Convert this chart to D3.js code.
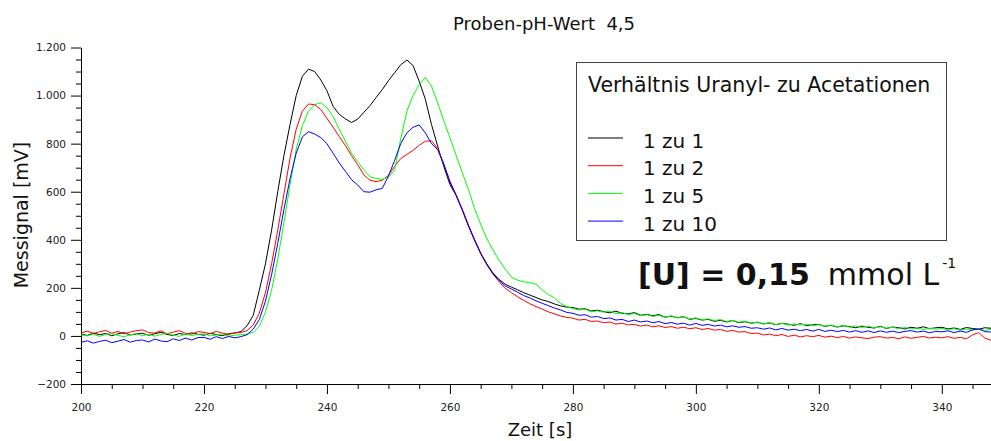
<!DOCTYPE html>
<html><head><meta charset="utf-8">
<script src="https://cdn.jsdelivr.net/npm/d3@7"></script>
<style>
html,body{margin:0;padding:0;background:#fff;}
svg{display:block;font-family:"DejaVu Sans",sans-serif;}
</style></head><body><svg id="c" width="991" height="441"></svg>
<script>
const chartTitle = "Proben-pH-Wert  4,5";
const xTitle = "Zeit [s]";
const yTitle = "Messignal [mV]";
const legendTitle = "Verhältnis Uranyl- zu Acetationen";
const seriesNames = ["1 zu 1", "1 zu 2", "1 zu 5", "1 zu 10"];
const seriesColors = ["#000000", "#ff0000", "#00ff00", "#0000ff"];
const times = d3.range(200, 349); // one sample per second, 200 … 348 s

const series11 = [
  8, 2, 12, 5, 10, 1, 9, 14, 4, 8,
  11, 3, 9, 15, 6, 2, 10, 5, 13, 7,
  3, 11, 6, 1, 9, 12, 18, 42, 85, 190,
  300, 440, 600, 750, 880, 1000, 1080, 1110, 1100, 1065,
  1020, 955, 922, 903, 888, 902, 930, 958, 992, 1025,
  1062, 1095, 1128, 1148, 1125, 1060, 985, 880, 790, 705,
  630, 585, 525, 460, 400, 345, 300, 262, 235, 215,
  203, 192, 180, 170, 160, 150, 143, 133, 125, 120,
  118, 111, 113, 104, 107, 101, 96, 103, 94, 92,
  97, 86, 90, 84, 89, 78, 82, 76, 80, 69,
  73, 66, 69, 61, 65, 58, 64, 55, 59, 53,
  57, 50, 54, 47, 52, 49, 44, 51, 43, 46,
  48, 40, 44, 37, 42, 39, 34, 41, 36, 33,
  40, 31, 37, 34, 29, 36, 32, 38, 30, 34,
  36, 29, 33, 27, 35, 31, 28, 34, 32
];
const series12 = [
  12, 20, 10, 17, 23, 11, 19, 8, 16, 22,
  25, 14, 12, 21, 9, 16, 22, 11, 7, 18,
  15, 9, 19, 12, 6, 13, 14, 22, 45, 95,
  180, 300, 440, 590, 740, 860, 935, 965, 962, 942,
  905, 868, 830, 792, 750, 712, 670, 648, 642, 648,
  668, 705, 738, 755, 772, 793, 810, 812, 780, 715,
  645, 588, 528, 462, 402, 345, 298, 258, 225, 198,
  180, 163, 148, 134, 122, 112, 100, 92, 83, 77,
  74, 66, 69, 60, 62, 55, 58, 49, 53, 46,
  48, 41, 45, 38, 42, 35, 39, 32, 36, 30,
  34, 27, 31, 24, 27, 19, 23, 16, 18, 10,
  12, 4, 8, 1, 6, -2, 3, -4, 1, -3,
  2, -5, -1, -7, -2, -9, -4, -8, -11, -5,
  -3, -9, -6, -12, -4, -10, -6, -2, -9, -5,
  -8, -3, -10, -6, -12, 4, 14, -9, -18
];
const series15 = [
  5, 0, 8, -2, 6, 10, 2, -3, 5, 9,
  1, 7, -1, 6, 11, 3, -2, 8, 2, 6,
  9, 0, 4, 8, -1, 3, 5, 8, 15, 40,
  100, 190, 320, 470, 630, 775, 875, 935, 962, 970,
  950, 912, 860, 810, 760, 725, 690, 662, 655, 652,
  660, 690, 820, 935, 1000, 1045, 1075, 1040, 970, 895,
  825, 752, 680, 610, 530, 465, 405, 358, 315, 278,
  245, 232, 225, 222, 215, 192, 172, 158, 135, 122,
  114, 108, 111, 101, 104, 99, 103, 92, 97, 89,
  93, 84, 88, 81, 86, 77, 84, 75, 79, 71,
  75, 67, 71, 64, 68, 60, 65, 57, 61, 53,
  57, 50, 55, 47, 53, 45, 50, 46, 49, 42,
  47, 40, 45, 38, 44, 36, 42, 35, 41, 33,
  38, 32, 36, 30, 35, 29, 33, 27, 32, 28,
  31, 26, 30, 24, 29, 25, 28, 23, 27
];
const series110 = [
  -27, -20, -30, -23, -18, -28, -22, -15, -26, -19,
  -17, -25, -13, -21, -24, -12, -19, -9, -17, -7,
  -6, -14, -3, -11, -2, -8, -3, 5, 28, 68,
  145, 255, 385, 525, 655, 760, 828, 850, 840, 825,
  800, 760, 720, 685, 650, 628, 600, 598, 608, 614,
  665, 730, 800, 845, 868, 878, 845, 800, 775, 715,
  640, 585, 525, 458, 398, 342, 296, 258, 230, 208,
  195, 182, 168, 158, 146, 136, 126, 116, 108, 98,
  94, 86, 88, 78, 81, 72, 75, 66, 69, 60,
  66, 58, 62, 55, 60, 51, 56, 49, 53, 45,
  52, 44, 48, 41, 45, 38, 42, 36, 39, 32,
  34, 28, 33, 25, 31, 24, 28, 22, 27, 20,
  27, 19, 24, 18, 23, 16, 22, 15, 21, 14,
  21, 15, 20, 14, 19, 22, 16, 20, 13, 19,
  17, 21, 14, 20, 15, 25, 29, 18, 16
];
const seriesValues = [series11, series12, series15, series110];

const xTickValues = [200, 220, 240, 260, 280, 300, 320, 340];
const xTickLabels = ["200", "220", "240", "260", "280", "300", "320", "340"];
const xMinorTickValues = [205, 210, 215, 225, 230, 235, 245, 250, 255, 265, 270, 275, 285, 290, 295, 305, 310, 315, 325, 330, 335, 345];
const yTickValues = [-200, 0, 200, 400, 600, 800, 1000, 1200];
const yTickLabels = ["\u2212200", "0", "200", "400", "600", "800", "1.000", "1.200"];
const yMinorTickValues = [-150, -100, -50, 50, 100, 150, 250, 300, 350, 450, 500, 550, 650, 700, 750, 850, 900, 950, 1050, 1100, 1150];

const svg = d3.select("#c");
svg.append("rect").attr("width", 991).attr("height", 441).attr("fill", "#fff");

const x = d3.scaleLinear().domain([200, 348]).range([81, 991]);
const y = d3.scaleLinear().domain([-200, 1200]).range([384, 47.5]);

// minor ticks
svg.append("g").attr("transform", "translate(0,384)")
  .call(d3.axisBottom(x).tickValues(xMinorTickValues).tickSize(5).tickSizeOuter(0).tickFormat(""))
  .call(g => g.select(".domain").remove());
svg.append("g").attr("transform", "translate(81,0)")
  .call(d3.axisLeft(y).tickValues(yMinorTickValues).tickSize(5).tickSizeOuter(0).tickFormat(""))
  .call(g => g.select(".domain").remove());

// major axes
const gx = svg.append("g").attr("transform", "translate(0,384)")
  .call(d3.axisBottom(x).tickValues(xTickValues).tickSize(10).tickSizeOuter(0).tickPadding(10)
    .tickFormat((d, i) => xTickLabels[i]));
const gy = svg.append("g").attr("transform", "translate(81,0)")
  .call(d3.axisLeft(y).tickValues(yTickValues).tickSize(10).tickSizeOuter(0).tickPadding(5)
    .tickFormat((d, i) => yTickLabels[i]));
[gx, gy].forEach(g => g.selectAll("text")
  .attr("font-family", "DejaVu Sans, sans-serif").attr("font-size", 10.5).attr("fill", "#222"));
svg.selectAll(".tick line, .domain").attr("stroke", "#000");

// curves
const line = d3.line().x((d, i) => x(times[i])).y(d => y(d));
seriesValues.forEach((vals, k) => {
  svg.append("path").datum(vals)
    .attr("fill", "none").attr("stroke", seriesColors[k]).attr("stroke-width", 1)
    .attr("stroke-linejoin", "round").attr("d", line);
});

// titles
svg.append("text").attr("x", 544).attr("y", 30).attr("text-anchor", "middle")
  .attr("font-size", 18).attr("fill", "#111").style("white-space", "pre").text(chartTitle);
svg.append("text").attr("x", 540).attr("y", 436).attr("text-anchor", "middle")
  .attr("font-size", 18).attr("fill", "#111").text(xTitle);
svg.append("text").attr("transform", "translate(28,215) rotate(-90)").attr("text-anchor", "middle")
  .attr("font-size", 19).attr("fill", "#111").text(yTitle);

// legend
const lg = svg.append("g");
lg.append("rect").attr("x", 576.5).attr("y", 62.5).attr("width", 370).attr("height", 178)
  .attr("fill", "#fff").attr("stroke", "#444").attr("stroke-width", 1);
lg.append("text").attr("x", 588).attr("y", 92).attr("font-size", 20.5).attr("fill", "#111").text(legendTitle);
seriesNames.forEach((name, i) => {
  const ly = 138 + i * 27.7;
  lg.append("line").attr("x1", 588).attr("x2", 623).attr("y1", ly).attr("y2", ly)
    .attr("stroke", seriesColors[i]).attr("stroke-width", 1);
  lg.append("text").attr("x", 643).attr("y", ly + 9.5).attr("font-size", 20).attr("fill", "#111").text(name);
});

// concentration annotation
const ann = svg.append("text").attr("x", 638).attr("y", 285).attr("fill", "#111");
ann.append("tspan").attr("font-weight", "bold").attr("font-size", 30).text("[U] = 0,15");
ann.append("tspan").attr("font-size", 30).attr("dx", 18).text("mmol L");
ann.append("tspan").attr("font-size", 14).attr("dx", 3).attr("dy", -17).text("-1");
</script></body></html>
